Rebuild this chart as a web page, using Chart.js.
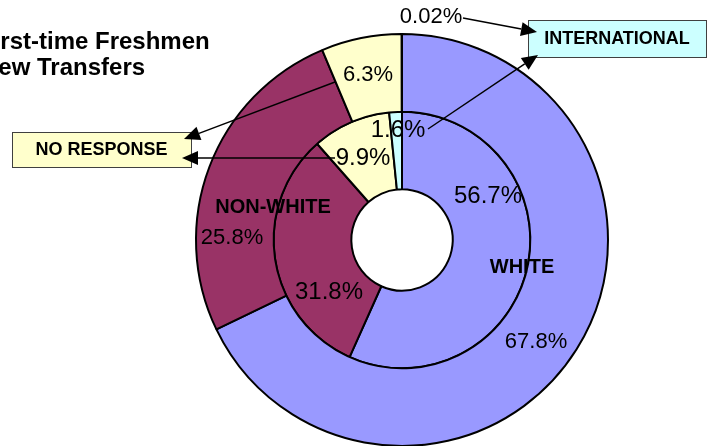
<!DOCTYPE html>
<html>
<head>
<meta charset="utf-8">
<script src="https://cdn.jsdelivr.net/npm/chart.js@4.4.1/dist/chart.umd.min.js"></script>
<style>
  html, body { margin: 0; padding: 0; background: #fff; overflow: hidden; }
  #wrap { position: relative; width: 707px; height: 446px; overflow: hidden; }
  canvas { position: absolute; left: 0; top: 0; }
</style>
</head>
<body>
<div id="wrap"><canvas id="myChart" width="707" height="460"></canvas></div>
<script>
// data
const categories = ['WHITE', 'NON-WHITE', 'NO RESPONSE', 'INTERNATIONAL'];
const freshmenPct = [67.8, 25.8, 6.3, 0.02];   // outer ring
const transferPct = [56.7, 31.8, 9.9, 1.6];    // inner ring
const titleLines = ['First-time Freshmen', 'New Transfers'];

const sliceColors = ['#9999FF', '#993366', '#FFFFCC', '#CCFFFF'];

// label placement (offset from the doughnut centre), like the moved Excel labels
const outerLabelOffset = [[134, 102], [-170, -2], [-34, -165], [29, -223]];
const innerLabelOffset = [[86, -44], [-73, 52], [-39, -82], [-4, -110]];
const nameOffset = { 0: [120, 27], 1: [-129, -33] };

function arrow(ctx, x1, y1, x2, y2) {
    const a = Math.atan2(y2 - y1, x2 - x1);
    const len = 16, w = 7;
    const bx = x2 - len * Math.cos(a), by = y2 - len * Math.sin(a);
    ctx.beginPath();
    ctx.moveTo(x1, y1);
    ctx.lineTo(bx, by);
    ctx.stroke();
    ctx.beginPath();
    ctx.moveTo(x2, y2);
    ctx.lineTo(bx + w * Math.sin(a), by - w * Math.cos(a));
    ctx.lineTo(bx - w * Math.sin(a), by + w * Math.cos(a));
    ctx.closePath();
    ctx.fill();
}

function box(ctx, x, y, w, h, fill, text) {
    ctx.fillStyle = fill;
    ctx.fillRect(x, y, w, h);
    ctx.strokeStyle = '#404040';
    ctx.lineWidth = 1;
    ctx.strokeRect(x + 0.5, y + 0.5, w, h);
    ctx.fillStyle = '#000';
    ctx.font = 'bold 18px "Liberation Sans", Arial, sans-serif';
    ctx.textAlign = 'center';
    ctx.textBaseline = 'middle';
    ctx.fillText(text, x + w / 2, y + h / 2 + 1);
}

const labelPlugin = {
    id: 'excelLabels',
    afterDraw(chart) {
        const ctx = chart.ctx;
        const arc = chart.getDatasetMeta(0).data[0];
        const cx = arc.x, cy = arc.y;
        ctx.save();

        // title (cut off on the left like the original)
        ctx.fillStyle = '#000';
        ctx.font = 'bold 24px "Liberation Sans", Arial, sans-serif';
        ctx.textAlign = 'left';
        ctx.textBaseline = 'alphabetic';
        ctx.fillText(titleLines[0], -21, 49);
        ctx.fillText(titleLines[1], -19, 75);

        // percentage labels
        ctx.textAlign = 'center';
        ctx.textBaseline = 'middle';
        ctx.font = '22px "Liberation Sans", Arial, sans-serif';
        freshmenPct.forEach((v, i) => {
            ctx.fillText(v + '%', cx + outerLabelOffset[i][0], cy + outerLabelOffset[i][1]);
        });
        ctx.font = '24px "Liberation Sans", Arial, sans-serif';
        transferPct.forEach((v, i) => {
            ctx.fillText(v + '%', cx + innerLabelOffset[i][0], cy + innerLabelOffset[i][1]);
        });

        // category names inside the rings
        ctx.font = 'bold 20px "Liberation Sans", Arial, sans-serif';
        Object.keys(nameOffset).forEach(i => {
            ctx.fillText(categories[i], cx + nameOffset[i][0], cy + nameOffset[i][1]);
        });

        // callout boxes
        box(ctx, 12, 132, 179, 35, sliceColors[2], categories[2]);
        box(ctx, 528, 20, 178, 37, sliceColors[3], categories[3]);

        // leader arrows
        ctx.strokeStyle = '#000';
        ctx.fillStyle = '#000';
        ctx.lineWidth = 1.5;
        arrow(ctx, 335, 82, 184, 139);
        arrow(ctx, 335, 158, 182, 158);
        arrow(ctx, 463, 18, 537, 32);
        arrow(ctx, 428, 129, 538, 55);

        ctx.restore();
    }
};

const ctx = document.getElementById('myChart').getContext('2d');
const myChart = new Chart(ctx, {
    type: 'doughnut',
    data: {
        labels: categories,
        datasets: [{
            label: titleLines[0],
            data: freshmenPct,
            backgroundColor: sliceColors,
            borderColor: '#000',
            borderWidth: 2
        }, {
            label: titleLines[1],
            data: transferPct,
            backgroundColor: sliceColors,
            borderColor: '#000',
            borderWidth: 2
        }]
    },
    options: {
        responsive: false,
        animation: false,
        cutout: '24.6%',
        layout: {
            padding: { top: 33, bottom: 13, left: 195, right: 98 }
        },
        plugins: {
            legend: { display: false },
            tooltip: { enabled: false }
        }
    },
    plugins: [labelPlugin]
});
</script>
</body>
</html>
